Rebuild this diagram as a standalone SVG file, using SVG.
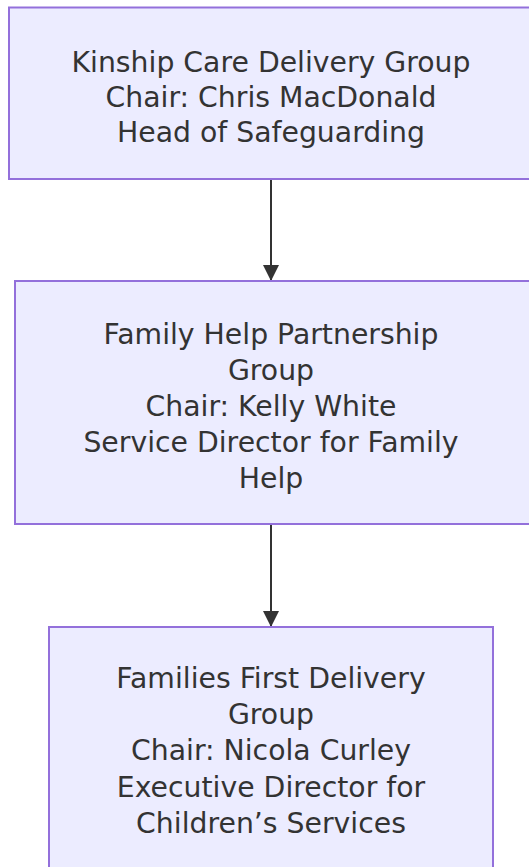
<svg xmlns="http://www.w3.org/2000/svg" width="529" height="867" viewBox="0 0 529 867">
<style>
.node rect{fill:#ECECFF;stroke:#9370DB;stroke-width:2}
.node text{font-family:"DejaVu Sans",sans-serif;font-size:28.3px;fill:#333;text-anchor:middle}
.edge{stroke:#333;stroke-width:2;fill:none}
</style>
<defs>
<marker id="arrow" viewBox="0 0 10 10" refX="10" refY="5" markerWidth="16" markerHeight="16" markerUnits="userSpaceOnUse" orient="auto">
<path d="M0,0 L10,5 L0,10 z" fill="#333"/>
</marker>
</defs>
<g id="connectors">
<path class="edge" d="M271,179 L271,281" marker-end="url(#arrow)"/>
<path class="edge" d="M271,524 L271,627" marker-end="url(#arrow)"/>
</g>
<g id="node-kinship" class="node">
<rect x="9" y="7.5" width="524" height="171.5"/>
<text x="271" y="72">Kinship Care Delivery Group</text>
<text x="271" y="107">Chair: Chris MacDonald</text>
<text x="271" y="142">Head of Safeguarding</text>
</g>
<g id="node-familyhelp" class="node">
<rect x="15" y="281" width="516" height="243"/>
<text x="271" y="344">Family Help Partnership</text>
<text x="271" y="380">Group</text>
<text x="271" y="416">Chair: Kelly White</text>
<text x="271" y="452">Service Director for Family</text>
<text x="271" y="488">Help</text>
</g>
<g id="node-familiesfirst" class="node">
<rect x="49" y="627" width="444" height="250"/>
<text x="271" y="688">Families First Delivery</text>
<text x="271" y="724">Group</text>
<text x="271" y="760">Chair: Nicola Curley</text>
<text x="271" y="797">Executive Director for</text>
<text x="271" y="833">Children’s Services</text>
</g>
</svg>
